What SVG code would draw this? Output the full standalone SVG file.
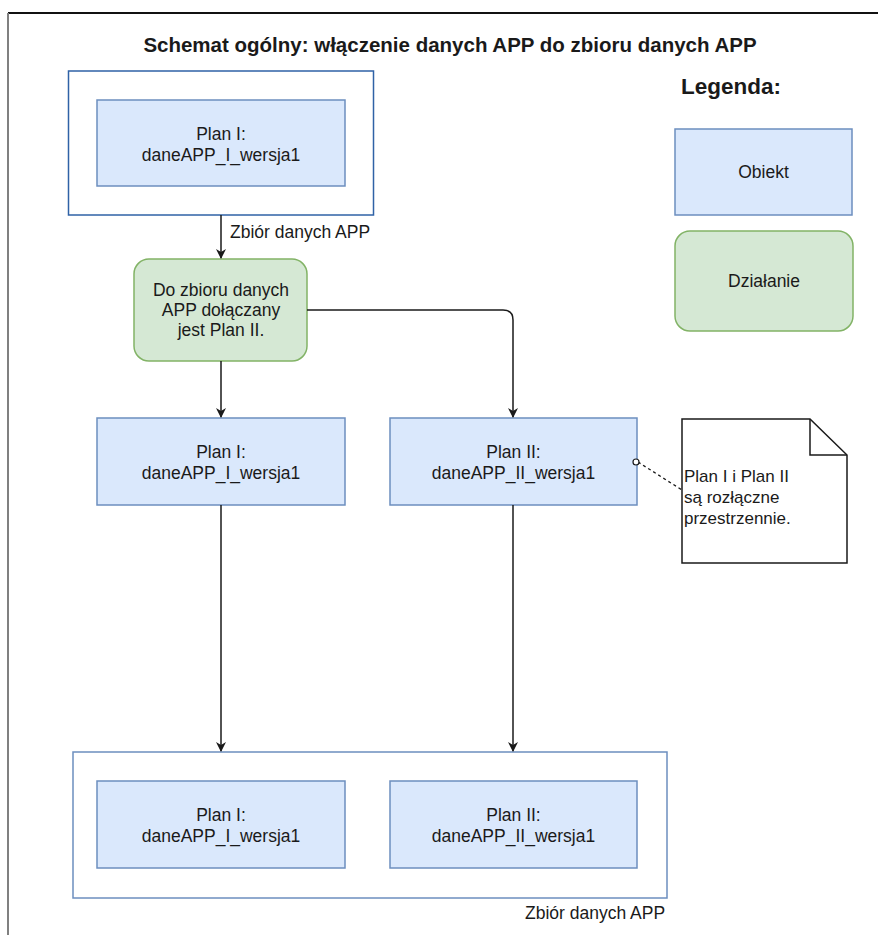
<svg xmlns="http://www.w3.org/2000/svg" width="878" height="935" viewBox="0 0 878 935">
<style>
text{font-family:"Liberation Sans",Arial,sans-serif;font-size:17.5px;fill:#1a1a1a}
.c{text-anchor:middle}
.t{font-weight:bold}
.obj{fill:#dae8fc;stroke:#6c8ebf;stroke-width:1.5}
.act{fill:#d5e8d4;stroke:#82b366;stroke-width:1.5}
.cont{fill:#ffffff;stroke:#6c8ebf;stroke-width:1.5}
.cont2{fill:#ffffff;stroke:#2f62a6;stroke-width:1.5}
.edge{fill:none;stroke:#1a1a1a;stroke-width:1.5}
</style>
<defs>
<marker id="arr" viewBox="0 0 10 10" refX="9" refY="5" markerWidth="10" markerHeight="10" markerUnits="userSpaceOnUse" orient="auto">
<path d="M0,0 L10,5 L0,10 L3,5 Z" fill="#1a1a1a"/>
</marker>
</defs>
<rect width="878" height="935" fill="#ffffff"/>
<g id="frame">
<line x1="8" y1="13" x2="878" y2="13" stroke="#111" stroke-width="2"/>
<line x1="8" y1="13" x2="8" y2="935" stroke="#808080" stroke-width="2"/>
</g>
<g id="title"><text class="c t" x="450" y="52" style="font-size:20.5px">Schemat ogólny: włączenie danych APP do zbioru danych APP</text></g>
<g id="legend">
<text class="t" x="681" y="94" style="font-size:22.5px">Legenda:</text>
<g id="leg-obiekt"><rect class="obj" x="675" y="129" width="177" height="86"/><text class="c" x="763.5" y="178">Obiekt</text></g>
<g id="leg-dzialanie"><rect class="act" x="675" y="231" width="178" height="100" rx="15"/><text class="c" x="764" y="287">Działanie</text></g>
</g>
<g id="set1">
<rect class="cont2" x="68.5" y="71" width="305" height="144"/>
<g id="plan1-a"><rect class="obj" x="97" y="100" width="248" height="86"/><text class="c" x="221" y="140">Plan I:</text><text class="c" x="221" y="161">daneAPP_I_wersja1</text></g>
</g>
<g id="action"><rect class="act" x="134" y="259" width="173" height="102" rx="15"/>
<text class="c" x="221" y="296">Do zbioru danych</text><text class="c" x="221" y="316">APP dołączany</text><text class="c" x="221" y="336">jest Plan II.</text></g>
<g id="plan1-b"><rect class="obj" x="97" y="418" width="248" height="87"/><text class="c" x="221" y="458">Plan I:</text><text class="c" x="221" y="479">daneAPP_I_wersja1</text></g>
<g id="plan2-b"><rect class="obj" x="390" y="418" width="247" height="87"/><text class="c" x="513.5" y="458">Plan II:</text><text class="c" x="513.5" y="479">daneAPP_II_wersja1</text></g>
<g id="note">
<path d="M682,419 H810 L847,455 V563 H682 Z" fill="#ffffff" stroke="#1a1a1a" stroke-width="1.5"/>
<path d="M810,419 V455 H847" fill="none" stroke="#1a1a1a" stroke-width="1.5"/>
<text x="684" y="482" style="font-size:17px">Plan I i Plan II</text><text x="684" y="503" style="font-size:17px">są rozłączne</text><text x="684" y="524" style="font-size:17px">przestrzennie.</text>
</g>
<g id="set2">
<rect class="cont" x="73" y="752" width="594" height="146"/>
<g id="plan1-c"><rect class="obj" x="97" y="781" width="248" height="87"/><text class="c" x="221" y="821">Plan I:</text><text class="c" x="221" y="842">daneAPP_I_wersja1</text></g>
<g id="plan2-c"><rect class="obj" x="390" y="781" width="247" height="87"/><text class="c" x="513.5" y="821">Plan II:</text><text class="c" x="513.5" y="842">daneAPP_II_wersja1</text></g>
<text x="525" y="919">Zbiór danych APP</text>
</g>
<g id="connectors">
<path class="edge" d="M221,215 V258" marker-end="url(#arr)"/>
<text x="230" y="238">Zbiór danych APP</text>
<path class="edge" d="M221,361 V417" marker-end="url(#arr)"/>
<path class="edge" d="M307,310 H503 Q513,310 513,320 V417" marker-end="url(#arr)"/>
<path class="edge" d="M221,505 V751" marker-end="url(#arr)"/>
<path class="edge" d="M513,505 V751" marker-end="url(#arr)"/>
<path d="M638,462 L682,490" fill="none" stroke="#1a1a1a" stroke-width="1.3" stroke-dasharray="3,3"/>
<circle cx="636" cy="462" r="3" fill="#ffffff" stroke="#1a1a1a" stroke-width="1.2"/>
</g>
</svg>
